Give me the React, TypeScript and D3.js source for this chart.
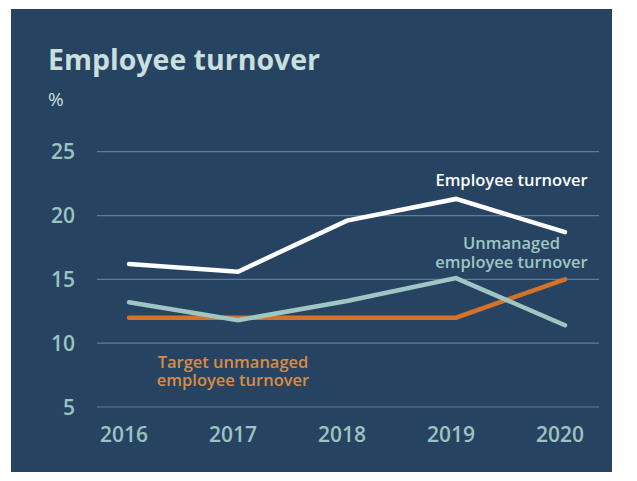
import React from "react";
import * as d3 from "d3";

const years = ["2016", "2017", "2018", "2019", "2020"];
const employeeTurnover = [16.2, 15.6, 19.6, 21.3, 18.7];
const unmanagedTurnover = [13.2, 11.8, 13.3, 15.1, 11.4];
const targetUnmanaged = [12, 12, 12, 12, 15];
const yTicks = [5, 10, 15, 20, 25];

const BG = "#264461";
const GRID = "#5f7b96";
const TICK = "#9dc3c1";
const WHITE = "#ffffff";
const TEAL = "#9fc6c2";
const ORANGE = "#d5722a";
const ORANGE_TXT = "#d98b46";
const FONT = "'Open Sans', 'Noto Sans', sans-serif";

export default function App() {
  const x = d3.scalePoint<string>().domain(years).range([129, 565]);
  const y = d3.scaleLinear().domain([5, 25]).range([407, 151.7]);
  const line = d3
    .line<number>()
    .x((_, i) => x(years[i]) as number)
    .y((d) => y(d));

  const series = [
    { vals: targetUnmanaged, color: ORANGE },
    { vals: unmanagedTurnover, color: TEAL },
    { vals: employeeTurnover, color: WHITE },
  ];

  return (
    <svg
      width={637}
      height={481}
      style={{ position: "absolute", left: 0, top: 0, fontFamily: FONT }}
    >
      <rect x={0} y={0} width={637} height={481} fill="#ffffff" />
      <rect x={11} y={9} width={601} height={463} fill={BG} />
      <text x={48} y={70} fill="#c9dfde" fontSize={28.5} fontWeight={700}>
        Employee turnover
      </text>
      <text x={48} y={106} fill="#c9dfde" fontSize={19}>
        %
      </text>
      {yTicks.map((t) => (
        <g key={t}>
          <line x1={97} x2={599} y1={y(t)} y2={y(t)} stroke={GRID} strokeWidth={1.2} />
          <text x={75} y={y(t) + 7.5} textAnchor="end" fill={TICK} fontSize={21} fontWeight={600}>
            {t}
          </text>
        </g>
      ))}
      {years.map((yr) => (
        <text
          key={yr}
          x={(x(yr) as number) - 5}
          y={442}
          textAnchor="middle"
          fill={TICK}
          fontSize={21}
          fontWeight={600}
        >
          {yr}
        </text>
      ))}
      {series.map((s, i) => (
        <path
          key={i}
          d={line(s.vals) || ""}
          fill="none"
          stroke={s.color}
          strokeWidth={4.5}
          strokeLinecap="round"
          strokeLinejoin="miter"
        />
      ))}
      <text x={511.5} y={185.5} textAnchor="middle" fill={WHITE} fontSize={16.5} fontWeight={600}>
        Employee turnover
      </text>
      <text x={511.5} y={249} textAnchor="middle" fill={TEAL} fontSize={16.5} fontWeight={600}>
        Unmanaged
      </text>
      <text x={511.5} y={268.3} textAnchor="middle" fill={TEAL} fontSize={16.5} fontWeight={600}>
        employee turnover
      </text>
      <text x={233} y={367.7} textAnchor="middle" fill={ORANGE_TXT} fontSize={16.5} fontWeight={600}>
        Target unmanaged
      </text>
      <text x={233} y={386} textAnchor="middle" fill={ORANGE_TXT} fontSize={16.5} fontWeight={600}>
        employee turnover
      </text>
    </svg>
  );
}
